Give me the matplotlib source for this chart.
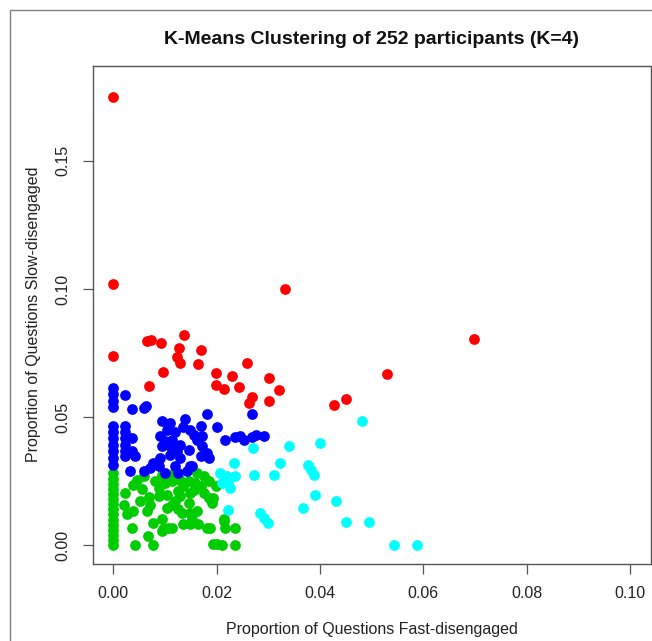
import matplotlib
matplotlib.use("Agg")
import matplotlib.pyplot as plt
from matplotlib.patches import Rectangle

plt.rcParams['font.family'] = ['Liberation Sans', 'DejaVu Sans']

title = "K-Means Clustering of 252 participants (K=4)"
xlabel = "Proportion of Questions Fast-disengaged"
ylabel = "Proportion of Questions Slow-disengaged"
xticks = [0.00, 0.02, 0.04, 0.06, 0.08, 0.10]
xtick_labels = ["0.00", "0.02", "0.04", "0.06", "0.08", "0.10"]
yticks = [0.00, 0.05, 0.10, 0.15]
ytick_labels = ["0.00", "0.05", "0.10", "0.15"]

# Cluster 1 (red)
red_x = [0.0, 0.0, 0.0, 0.0065, 0.0073, 0.0093, 0.0138, 0.0128, 0.0123, 0.0130,
         0.0169, 0.0165, 0.0096, 0.0069, 0.0198, 0.0199, 0.0229, 0.0214, 0.0243, 0.0258,
         0.0302, 0.0320, 0.0269, 0.0263, 0.0302, 0.0333, 0.0529, 0.0451, 0.0427, 0.0699]
red_y = [0.175, 0.102, 0.0739, 0.0798, 0.0800, 0.0790, 0.0821, 0.0769, 0.0736, 0.0710,
         0.0761, 0.0706, 0.0675, 0.0623, 0.0671, 0.0625, 0.0660, 0.0610, 0.0619, 0.0710,
         0.0652, 0.0606, 0.0580, 0.0554, 0.0561, 0.0998, 0.0668, 0.0571, 0.0548, 0.0804]

# Cluster 2 (blue)
blue_x = [0.0, 0.0, 0.0, 0.0, 0.0, 0.0, 0.0, 0.0, 0.0, 0.0, 0.0,
          0.0023, 0.0023, 0.0023, 0.0023, 0.0023, 0.0023, 0.0023,
          0.0037, 0.0037, 0.0037, 0.0043, 0.0059, 0.0064, 0.0032,
          0.0094, 0.0110, 0.0139, 0.0149, 0.0169, 0.0181, 0.0201, 0.0172, 0.0091, 0.0094,
          0.0110, 0.0130, 0.0146, 0.0172, 0.0181, 0.0185, 0.0169, 0.0130, 0.0110, 0.0091,
          0.0078, 0.0072, 0.0059, 0.0088, 0.0101, 0.0120, 0.0126, 0.0149, 0.0143, 0.0114,
          0.0101, 0.0123, 0.0162, 0.0152, 0.0136, 0.0120, 0.0156, 0.0104,
          0.0217, 0.0236, 0.0254, 0.0269, 0.0276, 0.0291, 0.0269, 0.0245]
blue_y = [0.0615, 0.0590, 0.0561, 0.0539, 0.0466, 0.0441, 0.0418, 0.0392, 0.0366, 0.0341, 0.0315,
          0.0587, 0.0464, 0.0440, 0.0420, 0.0392, 0.0366, 0.0347,
          0.0532, 0.0420, 0.0366, 0.0347, 0.0535, 0.0544, 0.0289,
          0.0483, 0.0477, 0.0492, 0.0451, 0.0464, 0.0512, 0.0461, 0.0425, 0.0425, 0.0386,
          0.0386, 0.0392, 0.0373, 0.0386, 0.0360, 0.0341, 0.0347, 0.0341, 0.0354, 0.0341,
          0.0321, 0.0302, 0.0289, 0.0308, 0.0282, 0.0308, 0.0282, 0.0308, 0.0289, 0.0412,
          0.0405, 0.0366, 0.0412, 0.0308, 0.0460, 0.0440, 0.0430, 0.0450,
          0.0410, 0.0422, 0.0412, 0.0422, 0.0431, 0.0425, 0.0513, 0.0425]

# Cluster 3 (green)
green_x = [0.0, 0.0, 0.0, 0.0, 0.0, 0.0, 0.0, 0.0, 0.0, 0.0, 0.0, 0.0, 0.0, 0.0, 0.0,
           0.0023, 0.0020, 0.0027, 0.0036, 0.0043, 0.0039, 0.0046, 0.0059, 0.0056, 0.0052,
           0.0039, 0.0065, 0.0072, 0.0068, 0.0078, 0.0078, 0.0094, 0.0097, 0.0114, 0.0081,
           0.0088, 0.0101, 0.0114, 0.0088, 0.0104, 0.0114, 0.0104, 0.0126, 0.0120, 0.0130,
           0.0136, 0.0146, 0.0130, 0.0159, 0.0169, 0.0175, 0.0185, 0.0191, 0.0149, 0.0146,
           0.0133, 0.0149, 0.0162, 0.0152, 0.0136, 0.0149, 0.0165, 0.0181, 0.0188, 0.0214,
           0.0217, 0.0236, 0.0194, 0.0201, 0.0236, 0.0117, 0.0162, 0.0175, 0.0185, 0.0104,
           0.0094, 0.0194, 0.0198, 0.0214, 0.0211, 0.0106, 0.0095, 0.0070, 0.0157, 0.0125]
green_y = [0.0, 0.002, 0.004, 0.006, 0.008, 0.010, 0.012, 0.014, 0.016, 0.018, 0.020, 0.022, 0.024, 0.026, 0.028,
           0.0205, 0.0159, 0.0120, 0.0069, 0.0, 0.0237, 0.0256, 0.0269, 0.0218, 0.0172,
           0.0133, 0.0133, 0.0159, 0.0036, 0.0, 0.0088, 0.0101, 0.0062, 0.0069, 0.0250,
           0.0224, 0.0244, 0.0250, 0.0192, 0.0198, 0.0159, 0.0146, 0.0140, 0.0172, 0.0192,
           0.0230, 0.0250, 0.0256, 0.0244, 0.0230, 0.0205, 0.0185, 0.0166, 0.0205, 0.0166,
           0.0127, 0.0127, 0.0133, 0.0101, 0.0082, 0.0082, 0.0082, 0.0069, 0.0069, 0.0094,
           0.0069, 0.0069, 0.0004, 0.0004, 0.0, 0.0282, 0.0282, 0.0269, 0.0250, 0.0269,
           0.0275, 0.0185, 0.0230, 0.0101, 0.0, 0.0069, 0.0056, 0.0190, 0.0215, 0.0210]

# Cluster 4 (cyan)
cyan_x = [0.0271, 0.0340, 0.0401, 0.0482, 0.0234, 0.0322, 0.0272, 0.0312, 0.0376, 0.0383,
          0.0388, 0.0206, 0.0220, 0.0236, 0.0211, 0.0223, 0.0227, 0.0391, 0.0431, 0.0367,
          0.0223, 0.0285, 0.0291, 0.0299, 0.0451, 0.0495, 0.0544, 0.0587]
cyan_y = [0.0380, 0.0386, 0.0399, 0.0483, 0.0321, 0.0321, 0.0273, 0.0273, 0.0313, 0.0295,
          0.0275, 0.0282, 0.0269, 0.0269, 0.0244, 0.0244, 0.0224, 0.0198, 0.0172, 0.0146,
          0.0136, 0.0127, 0.0108, 0.0085, 0.0092, 0.0092, 0.0, 0.0]

W, H = 652, 641
fig = plt.figure(figsize=(W / 100, H / 100), dpi=100)
fig.patch.set_facecolor('white')

# outer frame
fig.patches.append(Rectangle((9.5 / W, -0.1), 1.2, 1.1 - 10 / H, transform=fig.transFigure,
                             fill=False, edgecolor='#7f7f7f', linewidth=1.0))

ax = fig.add_axes([92.5 / W, 1 - 563.7 / H, (650.7 - 92.5) / W, (563.7 - 65.5) / H])

ms = 60
ax.scatter(green_x, green_y, s=ms, c='#00CD00', linewidths=0, zorder=3)
ax.scatter(blue_x, blue_y, s=ms, c='#0000FF', linewidths=0, zorder=3)
ax.scatter(cyan_x, cyan_y, s=ms, c='#00FFFF', linewidths=0, zorder=3)
ax.scatter(red_x, red_y, s=ms, c='#FF0000', linewidths=0, zorder=3)

ax.set_xlim(-0.004, 0.104)
ax.set_ylim(-0.0072, 0.1872)

ax.set_xticks(xticks)
ax.set_xticklabels(xtick_labels)
ax.set_yticks(yticks)
ax.set_yticklabels(ytick_labels, rotation=90, va='center')

for sp in ax.spines.values():
    sp.set_color('#555555')
    sp.set_linewidth(1.0)

ax.tick_params(axis='both', direction='out', length=7.5, width=0.9, color='#555555',
               labelsize=11.5, labelcolor='#222222', pad=8.5)

ax.set_xlabel(xlabel, fontsize=11.5, color='#222222', labelpad=15.5)
ax.set_ylabel(ylabel, fontsize=11.5, color='#222222', labelpad=10)
ax.set_title(title, fontsize=14, fontweight='bold', color='#111111', pad=15.5)

fig.savefig('out.png', dpi=100, facecolor='white')
